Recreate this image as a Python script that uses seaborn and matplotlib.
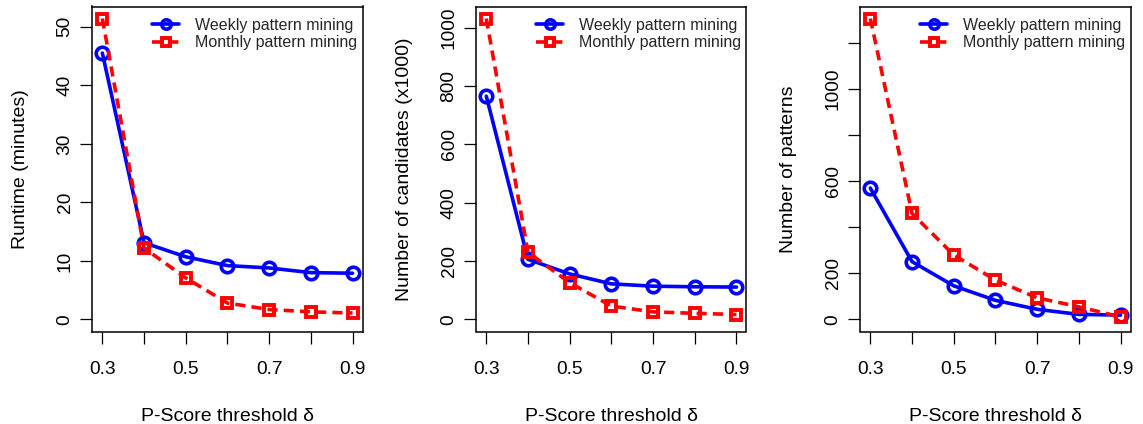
import numpy as np
import pandas as pd
import matplotlib
matplotlib.use("Agg")
import matplotlib.pyplot as plt
import seaborn as sns

# Dados
thresholds = [0.3, 0.4, 0.5, 0.6, 0.7, 0.8, 0.9]

runtime_weekly = [45.5, 13.1, 10.7, 9.2, 8.8, 8.0, 7.9]
runtime_monthly = [51.4, 12.2, 7.1, 2.8, 1.7, 1.3, 1.1]

cand_weekly = [765, 206, 156, 122, 114, 112, 111]
cand_monthly = [1031, 230, 126, 46, 26, 21, 17]

pat_weekly = [570, 251, 146, 83, 44, 22, 19]
pat_monthly = [1306, 460, 280, 171, 94, 55, 11]

ylabels = ["Runtime (minutes)", "Number of candidates (x1000)", "Number of patterns"]
xlabel = "P-Score threshold δ"
series_names = ["Weekly pattern mining", "Monthly pattern mining"]

yticks = [
    ([0, 10, 20, 30, 40, 50], ["0", "10", "20", "30", "40", "50"]),
    ([0, 200, 400, 600, 800, 1000], ["0", "200", "400", "600", "800", "1000"]),
    ([0, 200, 400, 600, 800, 1000, 1200], ["0", "200", "", "600", "", "1000", ""]),
]
xticks = [0.3, 0.4, 0.5, 0.6, 0.7, 0.8, 0.9]
xticklabels = ["0.3", "", "0.5", "", "0.7", "", "0.9"]

sns.set_theme(style="ticks")
plt.rcParams['font.family'] = ['Liberation Sans', 'DejaVu Sans']
plt.rcParams['axes.linewidth'] = 1.1

fig = plt.figure(figsize=(11.43, 4.24), dpi=100)
lefts = [0.0808, 0.4167, 0.7527]
width = 0.2364
bottom = 1 - 331.5 / 424
height = (331.5 - 6.5) / 424

dados = [
    (runtime_weekly, runtime_monthly),
    (cand_weekly, cand_monthly),
    (pat_weekly, pat_monthly),
]

for i, (w, m) in enumerate(dados):
    ax = fig.add_axes([lefts[i], bottom, width, height])
    df = pd.DataFrame({"x": thresholds, "w": w, "m": m})
    sns.lineplot(data=df, x="x", y="w", ax=ax, color="#0000ff", lw=2.6,
                 marker="o", markersize=9, markerfacecolor="none",
                 markeredgewidth=2.6, markeredgecolor="#0000ff",
                 label=series_names[0])
    sns.lineplot(data=df, x="x", y="m", ax=ax, color="#ff0000", lw=2.6,
                 linestyle=(0, (2.8, 1.7)), marker="s", markersize=7.5,
                 markerfacecolor="none", markeredgewidth=2.8,
                 markeredgecolor="#ff0000", label=series_names[1])

    ymax = max(max(w), max(m))
    pad = ymax * 0.04
    ax.set_ylim(-pad, ymax + pad)
    ax.set_xlim(0.3 - 0.024, 0.9 + 0.024)

    ax.set_xticks(xticks)
    ax.set_xticklabels(xticklabels)
    ax.set_yticks(yticks[i][0])
    ax.set_yticklabels(yticks[i][1], rotation=90, va="center")

    ax.tick_params(axis="both", direction="out", length=8.5, width=0.9,
                   labelsize=13.8, color="black", labelcolor="black",
                   bottom=True, left=True, top=False, right=False)
    ax.tick_params(axis="x", pad=13)
    ax.tick_params(axis="y", pad=5)
    ax.set_xlabel(xlabel, fontsize=14, labelpad=21, color="black")
    ax.set_ylabel(ylabels[i], fontsize=14, labelpad=20, color="black")
    for s in ax.spines.values():
        s.set_visible(True)
        s.set_color("black")

    ax.legend(loc="upper right", frameon=False, fontsize=11.5,
              handlelength=1.7, handletextpad=1.0, borderaxespad=0.0,
              labelspacing=0.15, markerscale=0.75,
              bbox_to_anchor=(1.005, 0.985))

plt.savefig("out.png", dpi=100)
